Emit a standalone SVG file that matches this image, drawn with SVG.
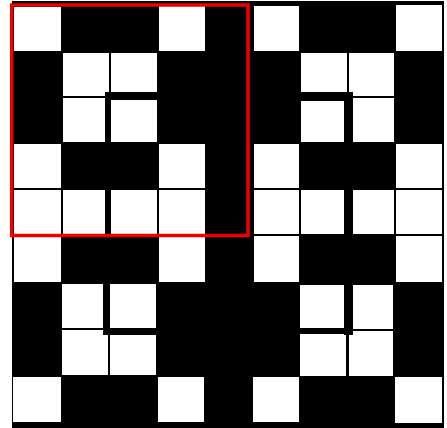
<svg xmlns="http://www.w3.org/2000/svg" width="447" height="428" viewBox="0 0 447 428">
<style>
.w{fill:#fff}
.b{fill:#000}
</style>
<rect x="0" y="0" width="447" height="428" fill="#fff"/>
<rect x="12" y="1" width="432" height="427" class="b"/>
<g id="row1">
<rect class="w" x="14" y="7" width="47" height="44"/>
<rect class="w" x="159" y="6" width="46" height="45"/>
<rect class="w" x="254" y="6" width="45" height="45"/>
<rect class="w" x="396" y="5" width="46" height="46"/>
</g>
<g id="row2">
<rect class="w" x="63" y="53" width="46" height="43"/>
<rect class="w" x="111" y="53" width="46" height="43"/>
<rect class="w" x="301" y="53" width="46" height="43"/>
<rect class="w" x="349" y="53" width="45" height="43"/>
</g>
<g id="row3">
<rect class="w" x="63" y="98" width="46" height="44"/>
<rect class="w" x="111" y="98" width="46" height="44"/>
<rect class="w" x="301" y="98" width="46" height="44"/>
<rect class="w" x="349" y="98" width="45" height="44"/>
</g>
<g id="row4">
<rect class="w" x="14" y="144" width="47" height="44"/>
<rect class="w" x="159" y="144" width="46" height="44"/>
<rect class="w" x="254" y="144" width="45" height="44"/>
<rect class="w" x="396" y="144" width="46" height="44"/>
</g>
<g id="row5">
<rect class="w" x="14" y="190" width="47" height="44"/>
<rect class="w" x="63" y="190" width="46" height="44"/>
<rect class="w" x="111" y="190" width="46" height="44"/>
<rect class="w" x="159" y="190" width="46" height="44"/>
<rect class="w" x="254" y="190" width="45" height="44"/>
<rect class="w" x="301" y="190" width="46" height="44"/>
<rect class="w" x="349" y="190" width="45" height="44"/>
<rect class="w" x="396" y="190" width="46" height="44"/>
</g>
<g id="row6">
<rect class="w" x="14" y="237" width="47" height="45"/>
<rect class="w" x="159" y="236" width="46" height="46"/>
<rect class="w" x="254" y="236" width="45" height="46"/>
<rect class="w" x="396" y="236" width="46" height="46"/>
</g>
<g id="row7">
<rect class="w" x="62" y="284" width="46" height="44"/>
<rect class="w" x="110" y="284" width="46" height="44"/>
<rect class="w" x="300" y="285" width="46" height="43"/>
<rect class="w" x="349" y="285" width="44" height="44"/>
</g>
<g id="row8">
<rect class="w" x="62" y="330" width="46" height="45"/>
<rect class="w" x="110" y="330" width="46" height="45"/>
<rect class="w" x="300" y="331" width="46" height="45"/>
<rect class="w" x="349" y="331" width="44" height="45"/>
</g>
<g id="row9">
<rect class="w" x="13" y="377" width="48" height="45"/>
<rect class="w" x="158" y="377" width="46" height="45"/>
<rect class="w" x="253" y="377" width="46" height="45"/>
<rect class="w" x="395" y="377" width="47" height="46"/>
</g>
<g id="bars">
<rect class="b" x="105" y="92" width="53" height="8"/>
<rect class="b" x="105" y="92" width="6" height="146"/>
<rect class="b" x="103" y="234" width="7" height="101"/>
<rect class="b" x="103" y="328" width="55" height="7"/>
<rect class="b" x="300" y="92" width="53" height="9"/>
<rect class="b" x="344" y="92" width="9" height="243"/>
<rect class="b" x="300" y="328" width="52" height="6"/>
</g>
<rect x="11.7" y="5" width="236.3" height="230.5" fill="none" stroke="#ee0000" stroke-width="3.5"/>
</svg>
